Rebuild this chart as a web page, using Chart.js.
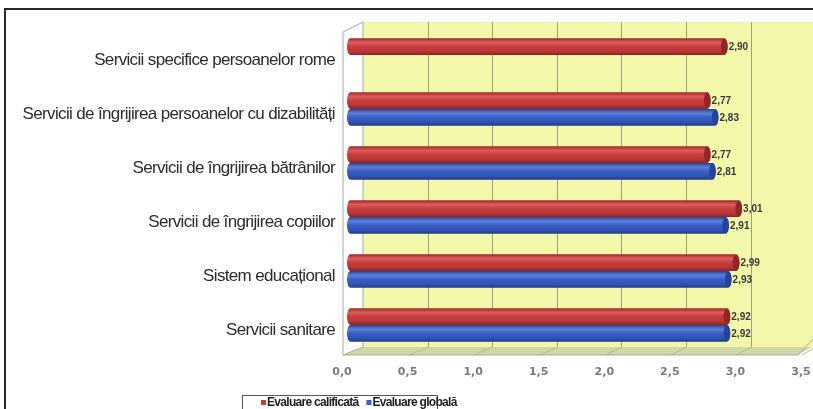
<!DOCTYPE html>
<html>
<head>
<meta charset="utf-8">
<script src="https://cdn.jsdelivr.net/npm/chart.js@4/dist/chart.umd.min.js"></script>
<style>
  html, body { margin:0; padding:0; background:#fff; }
  #wrap { position:relative; width:813px; height:409px; }
</style>
</head>
<body>
<div id="wrap"><canvas id="c" width="813" height="409"></canvas></div>
<script>
// data
const categories = [
  "Servicii specifice persoanelor rome",
  "Servicii de îngrijirea persoanelor cu dizabilități",
  "Servicii de îngrijirea bătrânilor",
  "Servicii de îngrijirea copiilor",
  "Sistem educațional",
  "Servicii sanitare"
];
const evaluareCalificata = [2.90, 2.77, 2.77, 3.01, 2.99, 2.92];
const evaluareGlobala    = [null, 2.83, 2.81, 2.91, 2.93, 2.92];
const xTickValues = [0, 0.5, 1, 1.5, 2, 2.5, 3, 3.5];

const RED  = { base:"#c43c3c", stops:["#9a2828","#de5c5c","#c93d3d","#b83535","#8c2424"], cap:"#8e2727" };
const BLUE = { base:"#3a5ec4", stops:["#24428f","#5c80da","#3a5ec4","#3052b4","#203b86"], cap:"#27439a" };

const fmt = v => v.toFixed(2).replace(".", ",");

function cylinder(ctx, x0, x1, yc, h, col) {
  const r = h/2, rx = h*0.2;
  const g = ctx.createLinearGradient(0, yc-r, 0, yc+r);
  [0, 0.25, 0.5, 0.8, 1].forEach((s,i)=>g.addColorStop(s, col.stops[i]));
  ctx.beginPath();
  ctx.moveTo(x0+rx, yc-r);
  ctx.lineTo(x1, yc-r);
  ctx.ellipse(x1, yc, rx, r, 0, -Math.PI/2, Math.PI/2);
  ctx.lineTo(x0+rx, yc+r);
  ctx.ellipse(x0+rx, yc, rx, r, 0, Math.PI/2, Math.PI*1.5);
  ctx.closePath();
  ctx.fillStyle = g; ctx.fill();
  // end cap
  ctx.beginPath();
  ctx.ellipse(x1, yc, rx, r-0.5, 0, 0, Math.PI*2);
  ctx.fillStyle = col.cap; ctx.fill();
  return x1 + rx;
}

const scene = {
  id:"scene",
  beforeDraw(chart) {
    const { ctx, chartArea:a, scales:{ x, y } } = chart;
    const W = chart.width;
    ctx.save();
    ctx.fillStyle = "#fff"; ctx.fillRect(0, 0, W, chart.height);
    // outer frame
    ctx.strokeStyle = "#2a2a2a"; ctx.lineWidth = 2;
    ctx.strokeRect(5, 9, W+20, chart.height+20);

    const dx = 16, k = 0.985;
    const front = a.left - 4;
    const back = x.getPixelForValue(0) + dx;
    const wallTop = a.top - 6, floorBack = a.bottom - 5, floorFront = a.bottom + 3;
    const backX = v => back + (x.getPixelForValue(v) - a.left) * k;

    // back wall
    ctx.fillStyle = "#f3f7aa";
    ctx.fillRect(back, wallTop, W - back, floorBack - wallTop);
    // left wall
    ctx.beginPath();
    ctx.moveTo(front, wallTop + 10); ctx.lineTo(back, wallTop);
    ctx.lineTo(back, floorBack); ctx.lineTo(front, floorFront); ctx.closePath();
    ctx.fillStyle = "#ffffff"; ctx.fill();
    ctx.strokeStyle = "#a8a8a8"; ctx.lineWidth = 1; ctx.stroke();
    // floor
    const fr = x.getPixelForValue(3.5) - 8;
    ctx.beginPath();
    ctx.moveTo(front, floorFront); ctx.lineTo(back, floorBack);
    ctx.lineTo(W + 2, floorBack); ctx.lineTo(W + 2, floorBack - 2);
    ctx.lineTo(fr, floorFront); ctx.closePath();
    ctx.fillStyle = "#cfd8a6"; ctx.fill();
    ctx.beginPath();
    ctx.moveTo(front, floorFront); ctx.lineTo(fr, floorFront); ctx.lineTo(W + 2, floorBack - 10);
    ctx.strokeStyle = "#a9ad98"; ctx.stroke();
    // grid lines
    xTickValues.forEach(v => {
      const bx = Math.round(backX(v)) + 0.5;
      if (v > 0 && bx < W) {
        ctx.beginPath(); ctx.moveTo(bx, wallTop); ctx.lineTo(bx, floorBack);
        ctx.strokeStyle = "#9d9f82"; ctx.lineWidth = 1; ctx.stroke();
      }
      ctx.beginPath();
      ctx.moveTo(x.getPixelForValue(v) - 4, floorFront); ctx.lineTo(bx, floorBack);
      ctx.strokeStyle = "#b4bc92"; ctx.stroke();
    });

    // category labels
    ctx.font = "17px 'Liberation Sans', Arial, sans-serif";
    ctx.letterSpacing = "-0.65px";
    ctx.fillStyle = "#2c2c2c"; ctx.textAlign = "right"; ctx.textBaseline = "middle";
    categories.forEach((lab, i) => ctx.fillText(lab, a.left - 12, y.getPixelForTick(i) + 5));
    ctx.restore();
  },
  beforeDatasetsDraw(chart) {
    const { ctx } = chart;
    ctx.save();
    chart.data.datasets.forEach((ds, di) => {
      const meta = chart.getDatasetMeta(di);
      const col = di === 0 ? RED : BLUE;
      meta.data.forEach((bar, i) => {
        const v = ds.data[i];
        if (v == null) return;
        const end = cylinder(ctx, bar.base, bar.x - 3, bar.y, bar.height, col);
        ctx.font = "bold 10px 'Liberation Sans', Arial, sans-serif";
        ctx.fillStyle = "#3a3a3a"; ctx.textAlign = "left"; ctx.textBaseline = "middle";
        ctx.fillText(fmt(v), end + 1, bar.y + 1);
      });
    });
    ctx.restore();
    return false;
  },
  afterDraw(chart) {
    const { ctx } = chart;
    ctx.save();
    ctx.font = "bold 12px 'Liberation Sans', Arial, sans-serif";
    ctx.letterSpacing = "-0.7px";
    ctx.textBaseline = "middle"; ctx.textAlign = "left";
    ctx.strokeStyle = "#555"; ctx.lineWidth = 1;
    ctx.strokeRect(242.5, 395.5, 195, 22);
    let px = 261;
    chart.data.datasets.forEach((ds, di) => {
      ctx.fillStyle = ds.backgroundColor;
      ctx.fillRect(px, 400, 5, 5);
      ctx.fillStyle = "#1e1e1e";
      ctx.fillText(ds.label, px + 6, 403);
      px += 6 + ctx.measureText(ds.label).width + 8;
    });
    ctx.restore();
  }
};

new Chart(document.getElementById("c"), {
  type:"bar",
  data:{
    labels: categories,
    datasets:[
      { label:"Evaluare calificată", data:evaluareCalificata, backgroundColor:RED.base },
      { label:"Evaluare globală",    data:evaluareGlobala,    backgroundColor:BLUE.base }
    ]
  },
  options:{
    indexAxis:"y", responsive:false, animation:false,
    layout:{ padding:{ top:28, right:7, left:0, bottom:0 } },
    datasets:{ bar:{ categoryPercentage:0.62, barPercentage:1 } },
    plugins:{ legend:{ display:false }, tooltip:{ enabled:false } },
    scales:{
      x:{
        min:0, max:3.5,
        afterBuildTicks: s => { s.ticks = xTickValues.map(v => ({ value:v })); },
        afterFit: s => { s.height = 57; s.paddingLeft = 0; s.paddingRight = 0; },
        grid:{ display:false, drawTicks:false }, border:{ display:false },
        ticks:{ padding:14, labelOffset:-5, color:"#7a7a7a", maxRotation:0,
                font:{ family:"'DejaVu Sans', sans-serif", size:11, weight:"bold" },
                callback: v => v.toFixed(1).replace(".", ",") }
      },
      y:{
        afterFit: s => { s.width = 347; },
        grid:{ display:false, drawTicks:false }, border:{ display:false },
        ticks:{ display:false }
      }
    }
  },
  plugins:[scene]
});
</script>
</body>
</html>
